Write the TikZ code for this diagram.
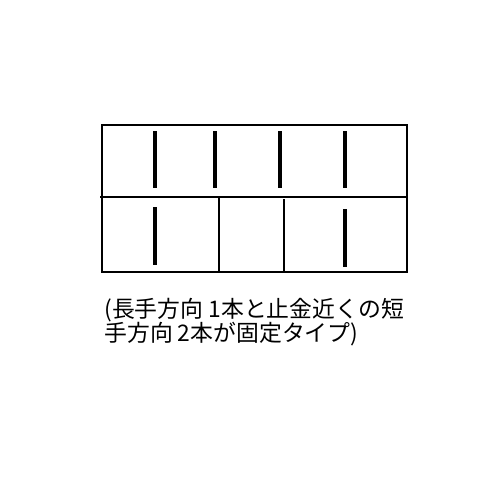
\documentclass[tikz,border=0pt]{standalone}
\usepackage{fontspec}
\newfontfamily\jpfont{Noto Sans CJK JP}
\usetikzlibrary{positioning}

\begin{document}
\begin{tikzpicture}[x=0.02cm, y=-0.02cm,
        frame/.style = {draw=black, line width=1.3pt},
        divider/.style = {draw=black, line width=1.1pt},
        clip bar/.style = {draw=black, line width=2.3pt},
        caption/.style = {font=\jpfont\fontsize{13pt}{13.6pt}\selectfont, align=left, inner sep=0pt}]
        \useasboundingbox (0,0) rectangle (500,500);
        % outer frame and middle line
        \draw[frame] (102,125) rectangle (407,272);
        \draw[frame] (100,197) -- (408,197);
        \draw[divider] (219,197) -- (219,271);
        \draw[divider] (284,199) -- (284,272);
        % fixed clips, top row
        \foreach \px in {155, 215, 280, 345}
                \draw[clip bar] (\px,131) -- (\px,188);
        % fixed clips, bottom row
        \draw[clip bar] (155,207) -- (155,265);
        \draw[clip bar] (345,209) -- (345,267);
        \node[caption, anchor=north west] (note) at (104,298)
                {(長手方向 1本と止金近くの短\\手方向 2本が固定タイプ)};
    \end{tikzpicture}
\end{document}
